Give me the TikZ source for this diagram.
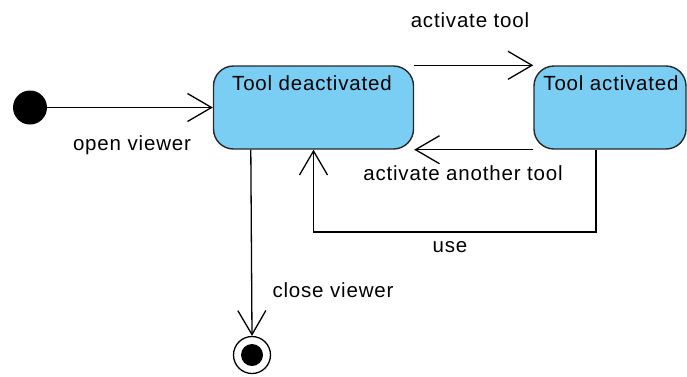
\documentclass[tikz,border=0pt]{standalone}
\usepackage{fontspec}
\setmainfont[LetterSpace=4]{Liberation Sans}
\usetikzlibrary{arrows.meta}
\definecolor{stfill}{RGB}{122,206,244}
\definecolor{stline}{RGB}{40,40,40}
\begin{document}
\begin{tikzpicture}[x=1pt,y=-1pt,
  every node/.style={font=\fontsize{20.5}{24}\selectfont},
  statebox/.style={draw=stline, fill=stfill, line width=1.4pt, rounded corners=20pt,
    rectangle, minimum width=200pt, minimum height=83pt, inner sep=0pt},
  trans/.style={line width=1.3pt, -{Straight Barb[length=24pt,width=28pt,line width=1.3pt]}},
  lbl/.style={inner sep=0pt}]
\useasboundingbox (0,0) rectangle (687,376);
\node[statebox] (td) at (313.5,107.5) {};
\node[statebox, minimum width=152pt] (ta) at (610,107.5) {};
\node[lbl, anchor=base] (tdt) at (312,90) {Tool deactivated};
\node[lbl, anchor=base] (tat) at (611,90) {Tool activated};
\node[circle, fill=black, minimum size=34pt, inner sep=0pt] (init) at (30,107.5) {};
\node[circle, draw=black, line width=1.3pt, minimum size=37pt, inner sep=0pt] (fin) at (252,355) {};
\node[circle, fill=black, minimum size=22pt, inner sep=0pt] (fini) at (fin) {};
\coordinate (useA) at ([xshift=-14pt]ta.south);
\coordinate (useB) at (useA |- 0,232);
\coordinate (useC) at (td.south |- 0,232);
\coordinate (closeA) at ([xshift=38pt]td.south west);
\draw[trans] (init) -- (td.west);
\draw[trans] (td.north east) -- (ta.north west);
\draw[trans] (ta.south west) -- (td.south east);
\draw[trans] (useA) -- (useB) -- (useC) -- (td.south);
\draw[trans] (closeA) -- (fin.north);
\node[lbl] (l1) at (470,20) {activate tool};
\node[lbl] (l2) at (463,173) {activate another tool};
\node[lbl] (l3) at (450,247) {use};
\node[lbl] (l4) at (333,290) {close viewer};
\node[lbl] (l5) at (132,145) {open viewer};
\end{tikzpicture}
\end{document}
